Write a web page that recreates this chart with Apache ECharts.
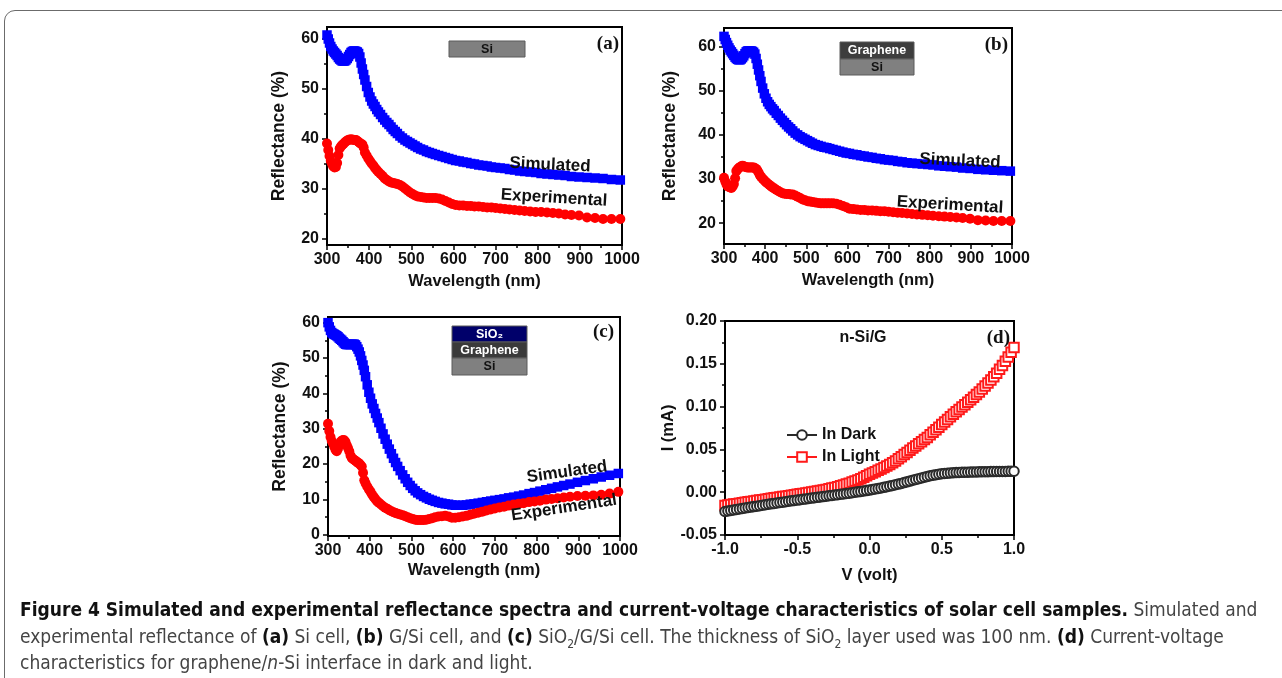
<!DOCTYPE html>
<html><head><meta charset="utf-8">
<script src="https://cdn.jsdelivr.net/npm/echarts@6/dist/echarts.min.js"></script>
<style>
html,body{margin:0;padding:0;background:#fff;}
#wrap{position:relative;width:1282px;height:678px;overflow:hidden;background:#fff;}
#chart{position:absolute;left:0;top:0;width:1282px;height:678px;}
#frame{position:absolute;left:4px;top:10px;width:1320px;height:720px;border:1.5px solid #6b6b6b;border-radius:11px;box-sizing:border-box;}
#cap{position:absolute;left:20px;top:596px;font-family:"Liberation Sans Narrow","DejaVu Sans Condensed","Liberation Sans",sans-serif;font-size:19px;color:#444;line-height:26.5px;white-space:nowrap;}
#cap b{color:#111;}
#cap sub{font-size:12px;line-height:0;}
</style></head>
<body><div id="wrap"><div id="frame"></div><div id="chart"></div>
<div id="cap">
<div><b>Figure 4 Simulated and experimental reflectance spectra and current-voltage characteristics of solar cell samples.</b> Simulated and</div>
<div>experimental reflectance of <b>(a)</b> Si cell, <b>(b)</b> G/Si cell, and <b>(c)</b> SiO<sub>2</sub>/G/Si cell. The thickness of SiO<sub>2</sub> layer used was 100 nm. <b>(d)</b> Current-voltage</div>
<div>characteristics for graphene/<i>n</i>-Si interface in dark and light.</div>
</div>
</div>
<script>
// ---------- DATA ----------
const wavelength = [300,303,306,309,312,315,318,321,324,327,330,333,336,339,342,345,348,351,354,357,360,363,366,369,372,375,378,381,384,387,390,
394,398,402,406,410,414,418,422,427,432,437,442,447,452,457,462,467,473,479,485,491,497,503,509,515,522,529,536,543,550,
557,565,573,581,589,597,605,614,623,632,641,650,660,670,680,690,700,711,722,733,745,757,769,782,795,808,822,836,850,865,880,898,917,936,955,975,996];

const simA = [60.8,60.0,59.2,58.5,58.0,57.6,57.3,57.0,56.7,56.3,56.0,55.8,55.6,55.6,55.6,55.8,56.1,56.5,56.9,57.3,57.5,57.6,57.6,57.5,57.4,57.1,56.4,55.2,54.0,52.9,51.8,
50.5,49.3,48.4,47.6,47.0,46.5,45.9,45.4,44.9,44.3,43.8,43.3,42.9,42.4,41.9,41.5,41.1,40.6,40.2,39.8,39.5,39.2,38.9,38.6,38.3,38.0,37.8,37.5,37.3,37.1,
36.9,36.7,36.5,36.3,36.1,35.9,35.7,35.6,35.4,35.3,35.1,35.0,34.8,34.7,34.6,34.4,34.3,34.2,34.1,33.9,33.8,33.6,33.5,33.4,33.3,33.1,33.0,32.9,32.8,32.7,32.5,32.4,32.3,32.2,32.1,31.9,31.8];
const expA = [39.1,37.8,36.6,35.6,35.0,34.5,34.3,34.4,35.2,36.8,38.1,38.5,38.8,39.0,39.3,39.5,39.7,39.8,39.9,39.9,39.9,39.8,39.8,39.8,39.6,39.4,39.2,39.0,38.9,38.3,37.3,
36.7,36.1,35.6,35.1,34.7,34.2,33.8,33.4,33.0,32.6,32.1,31.8,31.5,31.3,31.2,31.1,31.0,30.8,30.5,30.1,29.7,29.3,29.0,28.7,28.5,28.4,28.3,28.2,28.2,28.2,
28.2,28.1,27.9,27.6,27.3,27.0,26.8,26.7,26.7,26.6,26.6,26.5,26.5,26.4,26.3,26.3,26.2,26.1,26.0,25.9,25.8,25.7,25.6,25.5,25.4,25.4,25.3,25.2,25.1,24.9,24.8,24.7,24.3,24.2,24.0,24.0,24.0];

const simB = [62.3,61.6,60.9,60.3,59.7,59.2,58.8,58.4,58.0,57.6,57.3,57.1,57.0,57.0,57.2,57.5,57.9,58.4,58.8,59.0,59.0,59.0,59.0,58.9,58.7,58.3,57.3,56.0,54.7,53.4,52.1,
50.6,49.3,48.3,47.5,46.9,46.4,45.9,45.5,44.9,44.4,43.8,43.3,42.8,42.3,41.8,41.4,40.9,40.4,40.0,39.6,39.3,39.0,38.7,38.4,38.1,37.8,37.6,37.4,37.2,37.1,
36.9,36.7,36.5,36.3,36.1,35.9,35.8,35.6,35.5,35.3,35.2,35.0,34.9,34.7,34.6,34.4,34.3,34.2,34.0,33.9,33.7,33.6,33.5,33.4,33.3,33.2,33.0,32.9,32.8,32.7,32.5,32.4,32.2,32.1,32.0,31.9,31.8];
const expB = [30.3,29.5,28.8,28.4,28.2,28.1,28.0,28.3,28.9,30.2,31.8,32.2,32.5,32.7,32.9,33.0,32.9,32.8,32.7,32.6,32.6,32.6,32.6,32.6,32.6,32.5,32.3,32.0,31.5,30.9,30.5,
30.1,29.7,29.3,29.0,28.7,28.4,28.1,27.9,27.6,27.3,27.0,26.8,26.7,26.6,26.6,26.5,26.5,26.3,26.0,25.7,25.4,25.2,25.0,24.9,24.8,24.7,24.6,24.5,24.5,24.5,
24.5,24.5,24.4,24.2,23.9,23.6,23.3,23.2,23.1,23.0,23.0,22.9,22.9,22.8,22.7,22.7,22.6,22.5,22.4,22.3,22.2,22.1,22.0,21.9,21.8,21.7,21.6,21.5,21.4,21.3,21.2,21.0,20.7,20.6,20.5,20.5,20.5];

const simC = [60.0,58.8,57.8,57.2,56.9,56.7,56.5,56.3,56.0,55.6,55.3,55.0,54.6,54.2,53.9,53.8,53.8,53.8,53.8,53.9,53.9,53.9,53.7,53.2,52.5,51.7,50.6,49.3,48.0,46.5,44.7,
42.4,40.3,38.6,37.0,35.7,34.3,33.0,31.7,30.1,28.5,27.0,25.6,24.2,22.9,21.6,20.4,19.3,18.1,16.9,15.8,14.8,13.9,13.1,12.4,11.8,11.3,10.8,10.4,10.0,9.7,
9.4,9.1,8.9,8.7,8.6,8.4,8.3,8.3,8.3,8.4,8.6,8.7,8.9,9.1,9.3,9.5,9.7,9.9,10.1,10.4,10.6,10.9,11.2,11.6,11.9,12.3,12.7,13.1,13.5,13.9,14.3,14.8,15.3,15.8,16.3,16.8,17.3];
const expC = [31.4,29.3,27.6,26.5,25.8,24.9,24.0,23.6,24.3,25.4,26.2,26.6,26.8,26.7,26.2,25.3,24.5,23.6,22.4,21.7,21.4,21.1,20.9,20.6,20.3,20.1,19.7,19.3,17.5,15.4,14.5,
13.6,12.8,12.1,11.3,10.6,10.0,9.4,9.0,8.5,8.0,7.6,7.3,6.9,6.6,6.3,6.1,5.9,5.7,5.5,5.2,4.9,4.6,4.4,4.2,4.1,4.1,4.1,4.2,4.4,4.6,
4.9,5.1,5.2,5.3,5.1,4.8,4.8,4.9,5.1,5.3,5.6,5.9,6.2,6.5,6.8,7.1,7.4,7.7,7.9,8.2,8.5,8.7,8.9,9.2,9.4,9.6,9.9,10.1,10.3,10.5,10.7,10.9,11.0,11.1,11.3,11.6,12.1];

const voltage = [-1.00,-0.98,-0.96,-0.94,-0.92,-0.90,-0.88,-0.86,-0.84,-0.82,-0.80,-0.78,-0.76,-0.74,-0.72,-0.70,-0.68,-0.66,-0.64,-0.62,
-0.60,-0.58,-0.56,-0.54,-0.52,-0.50,-0.48,-0.46,-0.44,-0.42,-0.40,-0.38,-0.36,-0.34,-0.32,-0.30,-0.28,-0.26,-0.24,-0.22,
-0.20,-0.18,-0.16,-0.14,-0.12,-0.10,-0.08,-0.06,-0.04,-0.02,0.00,0.02,0.04,0.06,0.08,0.10,0.12,0.14,0.16,0.18,
0.20,0.22,0.24,0.26,0.28,0.30,0.32,0.34,0.36,0.38,0.40,0.42,0.44,0.46,0.48,0.50,0.52,0.54,0.56,0.58,
0.60,0.62,0.64,0.66,0.68,0.70,0.72,0.74,0.76,0.78,0.80,0.82,0.84,0.86,0.88,0.90,0.92,0.94,0.96,0.98,1.00];
const darkI = [-0.0225,-0.0219,-0.0213,-0.0207,-0.0201,-0.0196,-0.0190,-0.0185,-0.0179,-0.0174,-0.0168,-0.0163,-0.0157,-0.0152,-0.0146,-0.0141,-0.0136,-0.0131,-0.0126,-0.0121,
-0.0116,-0.0111,-0.0106,-0.0101,-0.0096,-0.0092,-0.0087,-0.0083,-0.0078,-0.0074,-0.0069,-0.0065,-0.0060,-0.0056,-0.0051,-0.0047,-0.0042,-0.0038,-0.0033,-0.0029,
-0.0024,-0.0020,-0.0015,-0.0011,-0.0006,-0.0001,0.0004,0.0009,0.0014,0.0019,0.0025,0.0031,0.0037,0.0043,0.0050,0.0057,0.0064,0.0071,0.0079,0.0087,
0.0095,0.0103,0.0112,0.0121,0.0130,0.0139,0.0148,0.0157,0.0166,0.0175,0.0184,0.0192,0.0199,0.0205,0.0211,0.0215,0.0219,0.0222,0.0225,0.0227,
0.0229,0.0231,0.0232,0.0233,0.0234,0.0235,0.0236,0.0237,0.0238,0.0239,0.0240,0.0240,0.0241,0.0241,0.0242,0.0242,0.0243,0.0243,0.0244,0.0244,0.0245];
const lightI = [-0.0155,-0.0150,-0.0145,-0.0139,-0.0134,-0.0129,-0.0124,-0.0118,-0.0113,-0.0108,-0.0103,-0.0097,-0.0092,-0.0087,-0.0082,-0.0077,-0.0072,-0.0066,-0.0061,-0.0056,
-0.0051,-0.0046,-0.0041,-0.0035,-0.0030,-0.0025,-0.0019,-0.0014,-0.0008,-0.0003,0.0003,0.0008,0.0014,0.0020,0.0026,0.0033,0.0040,0.0048,0.0056,0.0065,
0.0075,0.0085,0.0095,0.0106,0.0118,0.0130,0.0143,0.0158,0.0175,0.0192,0.0210,0.0225,0.0240,0.0256,0.0272,0.0289,0.0306,0.0324,0.0343,0.0365,
0.0390,0.0415,0.0440,0.0465,0.0490,0.0515,0.0540,0.0565,0.0590,0.0615,0.0640,0.0670,0.0700,0.0730,0.0760,0.0790,0.0820,0.0850,0.0880,0.0910,
0.0940,0.0967,0.0995,0.1022,0.1050,0.1080,0.1110,0.1140,0.1170,0.1205,0.1240,0.1275,0.1310,0.1350,0.1390,0.1435,0.1480,0.1530,0.1580,0.1635,0.1690];

const reflTicksAB = [20,30,40,50,60];
const reflMinorAB = [25,35,45,55];
const reflTicksC = [0,10,20,30,40,50,60];
const reflMinorC = [5,15,25,35,45,55];

// ---------- CHART ----------
const chart = echarts.init(document.getElementById('chart'), null, {renderer:'canvas'});
const FONT = '"Liberation Sans", Arial, sans-serif';
const labelStyle = {fontFamily:FONT, fontWeight:'bold', fontSize:16, color:'#111'};
const nameStyle = {fontFamily:FONT, fontWeight:'bold', fontSize:16.5, color:'#111'};
const yNameStyle = {fontFamily:FONT, fontWeight:'bold', fontSize:17.5, color:'#111'};
const lineAx = {show:true, onZero:false, lineStyle:{color:'#000', width:2}};
const tickAx = {show:true, inside:false, length:5, lineStyle:{color:'#000', width:1.5}};
const minorAx = {show:true, splitNumber:2, length:3, lineStyle:{color:'#000', width:1.5}};

const grids = [
  {left:327, top:27, width:295, height:218},
  {left:724, top:28, width:288, height:216},
  {left:328, top:317, width:292, height:219},
  {left:725, top:321, width:289, height:214}
].map(g => Object.assign({show:true, borderColor:'#000', borderWidth:2, backgroundColor:'transparent', containLabel:false}, g));

const xAxes = [], yAxes = [], series = [];
const panels = [
  {sim:simA, exp:expA, yMin:18.8, yMax:62.4, ticks:reflTicksAB, minor:reflMinorAB, yGap:39, xGap:28},
  {sim:simB, exp:expB, yMin:15.3, yMax:64.2, ticks:reflTicksAB, minor:reflMinorAB, yGap:45, xGap:28},
  {sim:simC, exp:expC, yMin:-0.4, yMax:61.6, ticks:reflTicksC, minor:reflMinorC, yGap:39, xGap:26}
];
panels.forEach((p, i) => {
  xAxes.push({gridIndex:i, type:'value', min:300, max:1000, interval:100,
    name:'Wavelength (nm)', nameLocation:'middle', nameGap:p.xGap, nameTextStyle:nameStyle,
    axisLine:lineAx, axisTick:tickAx, minorTick:minorAx, splitLine:{show:false},
    axisLabel:Object.assign({margin:7, formatter:v=>String(v)}, labelStyle)});
  const yi = yAxes.length;
  yAxes.push({gridIndex:i, type:'value', min:p.yMin, max:p.yMax, position:'left',
    name:'Reflectance (%)', nameLocation:'middle', nameGap:p.yGap, nameTextStyle:yNameStyle,
    axisLine:lineAx, axisTick:Object.assign({customValues:p.ticks}, tickAx), splitLine:{show:false},
    axisLabel:Object.assign({margin:8, customValues:p.ticks, formatter:v=>String(v)}, labelStyle)});
  yAxes.push({gridIndex:i, type:'value', min:p.yMin, max:p.yMax, position:'left',
    axisLine:{show:false}, axisLabel:{show:false}, splitLine:{show:false},
    axisTick:{show:true, length:3, customValues:p.minor, lineStyle:{color:'#000', width:1.5}}});
  series.push({type:'line', xAxisIndex:i, yAxisIndex:yi, data:wavelength.map((w,k)=>[w, p.sim[k]]),
    symbol:'rect', symbolSize:9.5, showAllSymbol:true, itemStyle:{color:'#0000ff'}, lineStyle:{color:'#0000ff', width:3}, z:2});
  series.push({type:'line', xAxisIndex:i, yAxisIndex:yi, data:wavelength.map((w,k)=>[w, p.exp[k]]),
    symbol:'circle', symbolSize:10, showAllSymbol:true, itemStyle:{color:'#ff0000'}, lineStyle:{color:'#ff0000', width:3}, z:3});
});
// panel d
xAxes.push({gridIndex:3, type:'value', min:-1, max:1, interval:0.5,
  name:'V (volt)', nameLocation:'middle', nameGap:32, nameTextStyle:nameStyle,
  axisLine:lineAx, axisTick:tickAx, minorTick:minorAx, splitLine:{show:false},
  axisLabel:Object.assign({margin:7, formatter:v=>v.toFixed(1)}, labelStyle)});
const ydi = yAxes.length;
yAxes.push({gridIndex:3, type:'value', min:-0.05, max:0.2, interval:0.05,
  name:'I (mA)', nameLocation:'middle', nameGap:33, nameTextStyle:nameStyle,
  axisLine:lineAx, axisTick:tickAx, minorTick:minorAx, splitLine:{show:false},
  axisLabel:Object.assign({margin:8, formatter:v=>v.toFixed(2)}, labelStyle)});
series.push({name:'In Light', type:'line', xAxisIndex:3, yAxisIndex:ydi, data:voltage.map((v,k)=>[v, lightI[k]]),
  symbol:'emptyRect', symbolSize:9.5, showAllSymbol:true, itemStyle:{color:'#ff1a1a', borderWidth:1.1}, lineStyle:{color:'#ff1a1a', width:2}, z:2});
series.push({name:'In Dark', type:'line', xAxisIndex:3, yAxisIndex:ydi, data:voltage.map((v,k)=>[v, darkI[k]]),
  symbol:'emptyCircle', symbolSize:9.5, showAllSymbol:true, itemStyle:{color:'#2a2a2a', borderWidth:1.1}, lineStyle:{color:'#2a2a2a', width:2}, z:3});

const annot = (text, x, y, rot) => ({type:'text', x:x, y:y, rotation:rot||0, z:10,
  style:{text:text, font:'bold 17px "Liberation Sans", Arial, sans-serif', fill:'#111', textAlign:'center', textVerticalAlign:'middle'}});
const panelLabel = (text, x, y) => ({type:'text', x:x, y:y, z:10,
  style:{text:text, font:'bold 19px "Liberation Serif", "Times New Roman", serif', fill:'#111', textAlign:'right', textVerticalAlign:'middle'}});
const layer = (x, y, w, h, fill, text, tfill) => [
  {type:'rect', shape:{x:x, y:y, width:w, height:h}, z:9, style:{fill:fill, stroke:'#5a5a5a', lineWidth:1}},
  {type:'text', x:x + w/2, y:y + h/2 + 0.5, z:10, style:{text:text, font:'bold 12.5px "Liberation Sans", Arial, sans-serif', fill:tfill, textAlign:'center', textVerticalAlign:'middle'}}
];

const graphic = [
  panelLabel('(a)', 619, 44), panelLabel('(b)', 1008, 45), panelLabel('(c)', 614, 332), panelLabel('(d)', 1010, 338),
  annot('Simulated', 550, 165, -0.045), annot('Experimental', 554, 198, -0.06),
  annot('Simulated', 960, 161, -0.045), annot('Experimental', 950, 205, -0.06),
  annot('Simulated', 567, 472, 0.14), annot('Experimental', 564, 508, 0.15),
  {type:'text', x:863, y:338, z:10, style:{text:'n-Si/G', font:'bold 16px "Liberation Sans", Arial, sans-serif', fill:'#111', textAlign:'center', textVerticalAlign:'middle'}},
  ...layer(449, 41, 76, 16, '#808080', 'Si', '#111'),
  ...layer(840, 42, 74, 17, '#3d3d3d', 'Graphene', '#fff'),
  ...layer(840, 59, 74, 16, '#808080', 'Si', '#111'),
  ...layer(452, 326, 75, 16, '#00006a', 'SiO\u2082', '#fff'),
  ...layer(452, 342, 75, 16, '#3a3a3a', 'Graphene', '#fff'),
  ...layer(452, 358, 75, 17, '#808080', 'Si', '#111')
];

chart.setOption({
  animation:false,
  grid:grids, xAxis:xAxes, yAxis:yAxes, series:series, graphic:graphic,
  legend:{data:['In Dark','In Light'], orient:'vertical', left:781, top:422, itemWidth:30, itemHeight:12, itemGap:6,
    textStyle:{fontFamily:FONT, fontWeight:'bold', fontSize:16, color:'#111'}, selectedMode:false}
});
</script>
</body></html>
